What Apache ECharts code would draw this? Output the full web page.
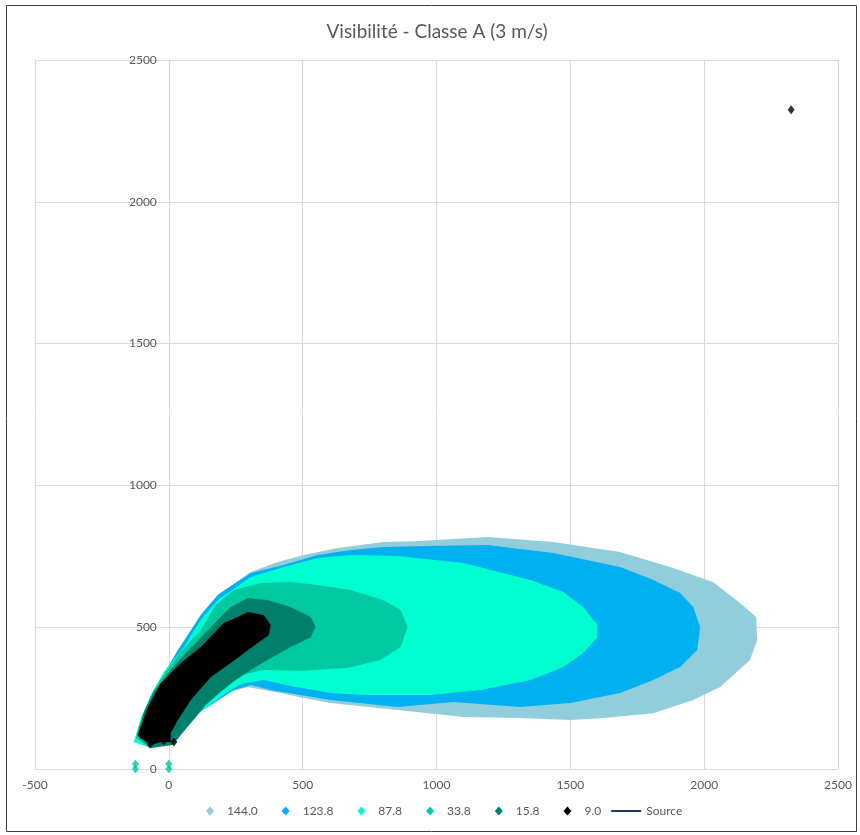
<!DOCTYPE html>
<html>
<head>
<meta charset="utf-8">
<script src="https://cdn.jsdelivr.net/npm/echarts@6/dist/echarts.min.js"></script>
<style>html,body{margin:0;padding:0;background:#fff}#chart{width:860px;height:835px}</style>
</head>
<body>
<div id="chart"></div>
<script>
// ---- Data ----
const title = 'Visibilité - Classe A (3 m/s)';
const seriesNames = ['144.0', '123.8', '87.8', '33.8', '15.8', '9.0'];
const seriesColors = ['#92CDDC', '#00B0F0', '#00FFD0', '#00C8A0', '#00806A', '#000000'];
const xTicks = { min: -500, max: 2500, interval: 500 };
const yTicks = { min: 0, max: 2500, interval: 500 };

// outline of each iso-visibility zone (x, y in m)
const zone144 = [[-108,102],[-82,180],[-49,254],[-4,342],[37,420],[82,480],[194,621],[306,695],[407,730],[504,755],[631,779],[802,800],[940,804],[1190,818],[1436,800],[1686,765],[1873,712],[2033,659],[2134,585],[2194,536],[2198,455],[2171,384],[2060,289],[1959,243],[1810,197],[1623,180],[1500,173],[1313,180],[1101,183],[854,208],[604,233],[504,250],[418,268],[295,289],[231,272],[168,233],[108,197],[45,138],[15,99],[-67,74]];
const zone123 = [[-116,102],[-93,180],[-56,261],[-11,349],[34,420],[119,543],[183,614],[306,691],[429,719],[556,755],[679,772],[802,783],[966,786],[1190,790],[1436,762],[1686,712],[1810,666],[1910,621],[1959,571],[1985,501],[1974,420],[1910,360],[1810,314],[1686,268],[1500,233],[1313,219],[1063,236],[854,219],[604,243],[492,261],[381,279],[306,296],[243,279],[168,233],[108,197],[45,138],[15,99],[-67,74]];
const zone87 = [[-131,95],[-104,180],[-67,261],[-19,342],[56,430],[119,525],[183,596],[306,677],[429,712],[556,744],[679,755],[854,751],[1101,726],[1351,666],[1474,624],[1548,571],[1601,508],[1601,465],[1548,409],[1474,360],[1351,314],[1164,279],[978,261],[728,261],[604,268],[455,293],[354,314],[269,300],[231,279],[168,236],[108,197],[45,145],[15,99],[-67,74]];
const zone33 = [[-123,109],[-97,190],[-60,272],[-11,342],[45,413],[119,490],[175,578],[243,631],[343,656],[455,659],[556,649],[679,631],[802,596],[866,561],[892,501],[866,430],[791,384],[668,356],[492,346],[354,349],[269,331],[183,279],[108,208],[45,138],[19,95],[-67,74]];
const zone15 = [[-119,120],[-93,201],[-56,272],[0,342],[56,402],[112,455],[175,518],[231,571],[295,603],[369,596],[455,571],[530,536],[548,501],[530,465],[455,430],[381,391],[306,349],[250,314],[194,272],[138,226],[101,183],[45,120],[15,85],[-67,74]];
const zone9 = [[-112,130],[-78,219],[-30,303],[45,374],[119,430],[205,515],[257,536],[295,554],[354,543],[381,508],[373,472],[332,444],[231,374],[157,324],[82,243],[34,173],[7,127],[7,95],[-30,95],[-67,85],[-104,109]];
const zones = [zone144, zone123, zone87, zone33, zone15, zone9];

// isolated markers
const points33 = [[-125,0],[-125,18],[0,0],[0,18]];
const points9 = [[2325,2325],[-104,120],[-70,88],[-19,99],[19,95]];
const sourceLine = [[0,0]];

// ---- Chart ----
const FONT = 'Lato';
const TXT = '#595959';
const GRID_LEFT = 35;
const chart = echarts.init(document.getElementById('chart'), null, { renderer: 'canvas' });

function polyRenderer(points) {
  return function (params, api) {
    if (params.dataIndex !== 0) return null;
    return {
      type: 'polygon',
      shape: { points: points.map(p => api.coord(p)) },
      style: { fill: api.visual('color'), stroke: null }
    };
  };
}

const series = [];
seriesNames.forEach((name, i) => {
  series.push({
    type: 'custom',
    name: name,
    data: zones[i],
    encode: { x: 0, y: 1 },
    itemStyle: { color: seriesColors[i] },
    renderItem: polyRenderer(zones[i]),
    silent: true
  });
});
series.push({
  type: 'scatter', name: '33.8', data: points33, symbol: 'diamond', symbolSize: [7, 9],
  itemStyle: { color: seriesColors[3] }
});
series.push({
  type: 'scatter', name: '9.0', data: points9, symbol: 'diamond', symbolSize: [7, 9],
  itemStyle: { color: seriesColors[5] }
});
series.push({
  type: 'line', name: 'Source', data: sourceLine, symbol: 'none', showSymbol: false,
  lineStyle: { color: '#1F3864', width: 2 }, itemStyle: { color: '#1F3864' }
});

const diamondIcon = 'path://M0,4.5 L0,4.5 M30,4.5 L30,4.5 M18,0 L22,4.5 L18,9 L14,4.5 Z';
const lineIcon = 'path://M0,3.5 L30,3.5 L30,5.5 L0,5.5 Z';

chart.setOption({
  animation: false,
  backgroundColor: '#ffffff',
  title: {
    text: title, left: 432, top: 17, textAlign: 'center',
    textStyle: { fontFamily: FONT, fontSize: 19, fontWeight: 'normal', color: TXT }
  },
  legend: {
    bottom: 13, left: 187,
    itemWidth: 30, itemHeight: 9, itemGap: 10,
    symbolKeepAspect: true,
    textStyle: { fontFamily: FONT, fontSize: 12, color: TXT },
    data: seriesNames.map(n => ({ name: n, icon: diamondIcon }))
      .concat([{ name: 'Source', icon: lineIcon, itemStyle: { color: '#1F3864' } }])
  },
  grid: { left: GRID_LEFT, right: 22, top: 60, bottom: 66, containLabel: false, outerBoundsMode: 'none' },
  xAxis: {
    type: 'value', min: xTicks.min, max: xTicks.max, interval: xTicks.interval,
    axisLine: { show: true, onZero: false, lineStyle: { color: '#d9d9d9' } },
    axisTick: { show: false },
    axisLabel: { fontFamily: FONT, fontSize: 12, color: TXT, margin: 10, formatter: v => String(v) },
    splitLine: { show: true, lineStyle: { color: '#d9d9d9', width: 1 } }
  },
  yAxis: {
    type: 'value', min: yTicks.min, max: yTicks.max, interval: yTicks.interval,
    axisLine: { show: true, onZero: false, lineStyle: { color: '#d9d9d9' } },
    axisTick: { show: false },
    axisLabel: { fontFamily: FONT, fontSize: 12, color: TXT, margin: 12, formatter: v => String(v) },
    splitLine: { show: true, lineStyle: { color: '#d9d9d9', width: 1 } }
  },
  graphic: [{
    type: 'rect', silent: true, z: 100,
    shape: { x: 6.5, y: 5.5, width: 850, height: 826 },
    style: { fill: null, stroke: '#404040', lineWidth: 1 }
  }],
  series: series
});

// place the y axis where x = 0 (as in the reference), using the x axis scale
const xZeroPx = chart.convertToPixel({ xAxisIndex: 0 }, 0);
chart.setOption({ yAxis: { offset: -(xZeroPx - GRID_LEFT) } });
</script>
</body>
</html>
